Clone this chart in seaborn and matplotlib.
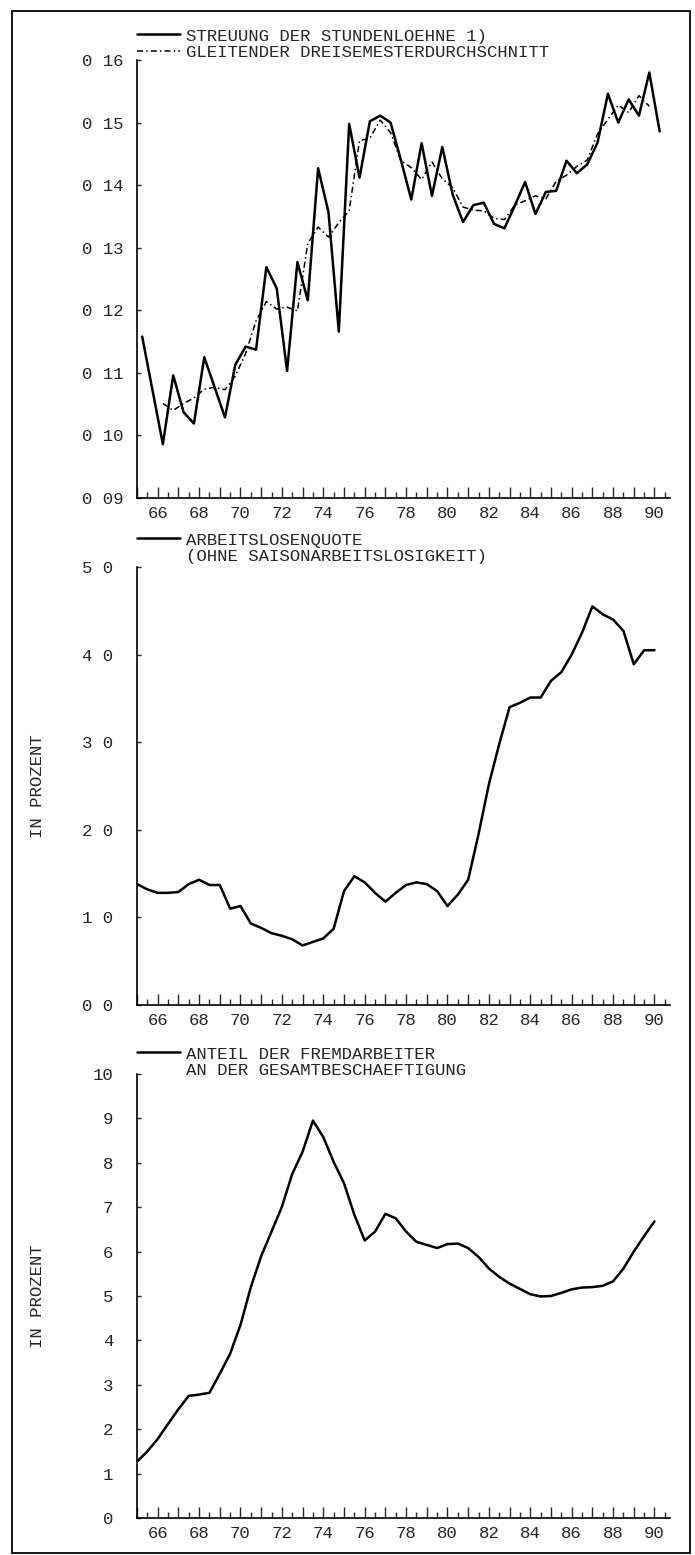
import numpy as np
import matplotlib
matplotlib.use("Agg")
import matplotlib.pyplot as plt
import seaborn as sns
from matplotlib.lines import Line2D
from matplotlib.patches import Rectangle

# --- data (semester values) ---
sem_x = np.arange(1965.25, 1990.3, 0.5)          # 1965 I .. 1990 I
streuung = [0.1158, 0.1072, 0.0986, 0.1096, 0.1037, 0.1019, 0.1125, 0.1077, 0.1029, 0.1113,
            0.1142, 0.1137, 0.1269, 0.1235, 0.1103, 0.1277, 0.1216, 0.1427, 0.1357, 0.1166,
            0.1498, 0.1412, 0.1502, 0.1511, 0.1500, 0.1440, 0.1377, 0.1467, 0.1383, 0.1461,
            0.1385, 0.1341, 0.1368, 0.1372, 0.1338, 0.1331, 0.1367, 0.1405, 0.1354, 0.1389,
            0.1391, 0.1439, 0.1419, 0.1433, 0.1468, 0.1546, 0.1500, 0.1537, 0.1511, 0.1580,
            0.1486]
# gleitender Dreisemesterdurchschnitt, drawn from the 3rd to the 50th semester
gleit = [0.1051, 0.1040, 0.1051, 0.1060, 0.1074, 0.1077, 0.1073, 0.1095, 0.1131, 0.1183,
         0.1214, 0.1202, 0.1205, 0.1199, 0.1307, 0.1333, 0.1317, 0.1340, 0.1359, 0.1471,
         0.1475, 0.1504, 0.1484, 0.1439, 0.1428, 0.1409, 0.1437, 0.1410, 0.1396, 0.1365,
         0.1360, 0.1359, 0.1347, 0.1345, 0.1368, 0.1375, 0.1383, 0.1378, 0.1406, 0.1416,
         0.1430, 0.1440, 0.1482, 0.1505, 0.1528, 0.1516, 0.1543, 0.1526]

half_x = np.arange(1965.0, 1990.01, 0.5)
arbeitslos = [1.38, 1.32, 1.28, 1.28, 1.29, 1.38, 1.43, 1.37, 1.37, 1.10,
              1.13, 0.93, 0.88, 0.82, 0.79, 0.75, 0.68, 0.72, 0.76, 0.87,
              1.30, 1.47, 1.40, 1.28, 1.18, 1.28, 1.37, 1.40, 1.38, 1.30,
              1.13, 1.26, 1.43, 1.95, 2.52, 2.98, 3.40, 3.45, 3.51, 3.51,
              3.70, 3.80, 4.00, 4.25, 4.55, 4.46, 4.40, 4.27, 3.89, 4.05,
              4.05]
fremd = [1.27, 1.50, 1.78, 2.12, 2.45, 2.75, 2.78, 2.82, 3.25, 3.70,
         4.35, 5.20, 5.90, 6.45, 7.01, 7.75, 8.25, 8.95, 8.58, 8.02,
         7.54, 6.83, 6.25, 6.45, 6.85, 6.75, 6.45, 6.22, 6.15, 6.08,
         6.17, 6.18, 6.08, 5.88, 5.62, 5.43, 5.28, 5.16, 5.04, 4.99,
         5.00, 5.07, 5.15, 5.19, 5.20, 5.23, 5.33, 5.62, 6.00, 6.35,
         6.68]

year_ticks = list(range(1965, 1991))
year_labels = ["" if y % 2 else str(y)[2:] for y in year_ticks]
year_labels[0] = ""

top_ticks = [0.09, 0.10, 0.11, 0.12, 0.13, 0.14, 0.15, 0.16]
top_labels = ["0 09", "0 10", "0 11", "0 12", "0 13", "0 14", "0 15", "0 16"]
mid_ticks = [0, 1, 2, 3, 4, 5]
mid_labels = ["0 0", "1 0", "2 0", "3 0", "4 0", "5 0"]
bot_ticks = list(range(0, 11))
bot_labels = [str(v) for v in bot_ticks]

sns.set_style("ticks")
plt.rcParams["font.family"] = ["Liberation Mono", "DejaVu Sans Mono"]
FS = 12.5

W, H = 695, 1555
fig = plt.figure(figsize=(W / 100, H / 100), dpi=100)


def px_axes(x0, x1, ytop, ybot):
    return fig.add_axes([x0 / W, 1 - ybot / H, (x1 - x0) / W, (ybot - ytop) / H])


def style_axis(ax, yticks, ylabels, ylim, ypad):
    sns.despine(ax=ax)
    ax.set_xlim(1965, 1990.75)
    ax.set_ylim(*ylim)
    ax.set_xticks(year_ticks)
    ax.set_xticklabels(year_labels)
    ax.set_xticks(np.arange(1965.5, 1990.6, 1.0), minor=True)
    ax.set_yticks(yticks)
    ax.set_yticklabels(ylabels)
    ax.tick_params(axis="x", which="major", direction="in", length=8, width=1.0,
                   pad=6, labelsize=FS)
    ax.tick_params(axis="x", which="minor", direction="in", length=4, width=1.0)
    ax.tick_params(axis="y", direction="in", length=3, width=1.0, pad=ypad, labelsize=FS)
    for s in ("left", "bottom"):
        ax.spines[s].set_linewidth(1.2)
        ax.spines[s].set_color("black")
    ax.set_xlabel("")
    ax.set_ylabel("")


def add_legend(ax, handles, labels, ycenter):
    ax.legend(handles, labels, loc="center left",
              bbox_to_anchor=(137 / W, 1 - ycenter / H), bbox_transform=fig.transFigure,
              frameon=False, fontsize=FS, handlelength=2.5, handletextpad=0.35,
              borderpad=0, borderaxespad=0, labelspacing=0.05)


solid = dict(color="black", lw=1.8)
dashdot = dict(color="black", lw=1.1, linestyle=(0, (4, 2, 1, 2)))

# top: Streuung der Stundenloehne
ax1 = px_axes(137, 670, 60, 498)
sns.lineplot(x=sem_x, y=streuung, ax=ax1, **solid)
sns.lineplot(x=sem_x[2:50], y=gleit, ax=ax1, **dashdot)
style_axis(ax1, top_ticks, top_labels, (0.09, 0.16), 10)
add_legend(ax1,
           [Line2D([], [], **solid), Line2D([], [], **dashdot)],
           ["STREUUNG DER STUNDENLOEHNE 1)", "GLEITENDER DREISEMESTERDURCHSCHNITT"],
           44)

# middle: Arbeitslosenquote
ax2 = px_axes(137, 670, 567, 1005)
sns.lineplot(x=half_x, y=arbeitslos, ax=ax2, **solid)
style_axis(ax2, mid_ticks, mid_labels, (0, 5), 17)
add_legend(ax2,
           [Line2D([], [], **solid), Line2D([], [], color="none")],
           ["ARBEITSLOSENQUOTE", "(OHNE SAISONARBEITSLOSIGKEIT)"],
           548)

# bottom: Anteil der Fremdarbeiter
ax3 = px_axes(137, 670, 1074, 1518)
sns.lineplot(x=half_x, y=fremd, ax=ax3, **solid)
style_axis(ax3, bot_ticks, bot_labels, (0, 10), 17)
add_legend(ax3,
           [Line2D([], [], **solid), Line2D([], [], color="none")],
           ["ANTEIL DER FREMDARBEITER", "AN DER GESAMTBESCHAEFTIGUNG"],
           1062)

for ax in (ax2, ax3):
    pos = ax.get_position()
    fig.text(38 / W, pos.y0 + pos.height / 2, "IN PROZENT", rotation=90,
             ha="center", va="center", fontsize=FS)

# outer frame of the figure
fig.patches.append(Rectangle((12 / W, 2 / H), 678 / W, 1542 / H, transform=fig.transFigure,
                             fill=False, edgecolor="black", lw=1.3))

fig.savefig("out.png", dpi=100)
